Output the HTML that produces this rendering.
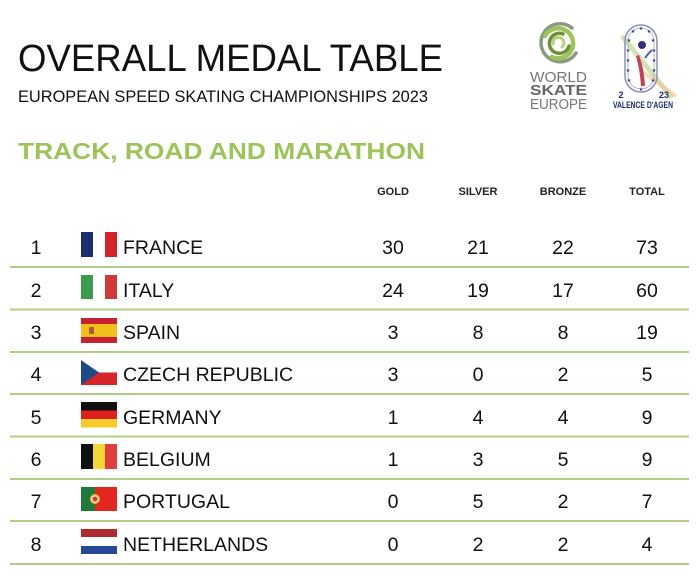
<!DOCTYPE html>
<html>
<head>
<meta charset="utf-8">
<style>
  html,body{margin:0;padding:0;background:#fff;}
  svg{display:block;}
  text{font-family:"Liberation Sans",Arial,sans-serif;}
</style>
</head>
<body>
<svg width="700" height="576" viewBox="0 0 700 576" xmlns="http://www.w3.org/2000/svg">
  <rect width="700" height="576" fill="#fff"/>

  <!-- Titles -->
  <text x="18" y="71" font-size="38" fill="#111" textLength="425" lengthAdjust="spacingAndGlyphs">OVERALL MEDAL TABLE</text>
  <text x="18" y="102" font-size="16.5" fill="#111" textLength="410" lengthAdjust="spacingAndGlyphs">EUROPEAN SPEED SKATING CHAMPIONSHIPS 2023</text>
  <text x="18" y="159" font-size="23" font-weight="bold" fill="#9dc35a" textLength="407" lengthAdjust="spacingAndGlyphs">TRACK, ROAD AND MARATHON</text>

  <!-- World Skate Europe logo -->
  <g fill="none" stroke-linecap="round">
    <path d="M 576 53 A 19 19 0 1 1 572 28" stroke="#8a9a80" stroke-width="3.5"/>
    <path d="M 545 36 A 15 15 0 1 1 552 57" stroke="#9cc45a" stroke-width="4.5"/>
    <path d="M 569 46 A 10 10 0 1 1 563 34" stroke="#6f8f3a" stroke-width="3.5"/>
    <path d="M 553 44 A 5.5 5.5 0 1 1 562 47" stroke="#b5d17a" stroke-width="3"/>
  </g>
  <text x="558.5" y="82" font-size="15" fill="#777" text-anchor="middle" textLength="57" lengthAdjust="spacingAndGlyphs">WORLD</text>
  <text x="558.5" y="95" font-size="15" font-weight="bold" fill="#666" text-anchor="middle" textLength="57" lengthAdjust="spacingAndGlyphs">SKATE</text>
  <text x="558.5" y="109" font-size="15" fill="#777" text-anchor="middle" textLength="57" lengthAdjust="spacingAndGlyphs">EUROPE</text>

  <!-- Valence d'Agen logo -->
  <path d="M 622 36 L 672 98" stroke="#c9dca0" stroke-width="5" opacity="0.8"/>
  <path d="M 640 70 L 676 96" stroke="#f0c89a" stroke-width="4" opacity="0.6"/>
  <rect x="625" y="25" width="32" height="67" rx="16" fill="none" stroke="#8a8fb0" stroke-width="1.5"/>
  <rect x="628" y="28" width="26" height="61" rx="13" fill="none" stroke="#b0b4cc" stroke-width="1"/>
  <g fill="#2a3580" font-size="5" text-anchor="middle">
    <text x="641" y="30">★</text><text x="633" y="33">★</text><text x="649" y="33">★</text>
    <text x="629" y="42">★</text><text x="653" y="42">★</text>
    <text x="628" y="52">★</text><text x="654" y="52">★</text>
    <text x="628" y="62">★</text><text x="654" y="62">★</text>
    <text x="628" y="72">★</text><text x="654" y="72">★</text>
    <text x="629" y="82">★</text><text x="653" y="82">★</text>
    <text x="641" y="91">★</text>
  </g>
  <circle cx="642" cy="45" r="4" fill="#3a2f7a"/>
  <path d="M 636 56 Q 640 70 641 86 L 645 86 Q 644 68 639 55 Z" fill="#c0405a"/>
  <path d="M 645 58 L 648 54 L 652 50" stroke="#3d6ab0" stroke-width="2" fill="none"/>
  <text x="621" y="98" font-size="9" font-weight="bold" fill="#1e2a6a" text-anchor="middle">2</text>
  <text x="664" y="98" font-size="9" font-weight="bold" fill="#1e2a6a" text-anchor="middle">23</text>
  <text x="643" y="108" font-size="9" font-weight="bold" fill="#1e2a6a" text-anchor="middle" textLength="60" lengthAdjust="spacingAndGlyphs">VALENCE D'AGEN</text>

  <!-- Headers -->
  <g font-size="11" font-weight="bold" fill="#222" text-anchor="middle">
    <text x="393" y="195">GOLD</text>
    <text x="478" y="195">SILVER</text>
    <text x="563" y="195">BRONZE</text>
    <text x="647" y="195">TOTAL</text>
  </g>

  <!-- Row lines -->
  <g stroke="#b2cd86" stroke-width="2">
    <line x1="10" y1="267" x2="689" y2="267"/>
    <line x1="10" y1="309.5" x2="689" y2="309.5"/>
    <line x1="10" y1="352" x2="689" y2="352"/>
    <line x1="10" y1="394" x2="689" y2="394"/>
    <line x1="10" y1="436.5" x2="689" y2="436.5"/>
    <line x1="10" y1="479" x2="689" y2="479"/>
    <line x1="10" y1="521" x2="689" y2="521"/>
    <line x1="10" y1="564" x2="689" y2="564"/>
  </g>

  <!-- Flags -->
  <rect x="81" y="232" width="12" height="25" fill="#1c2e6e"/>
  <rect x="105" y="232" width="12" height="25" fill="#d2232a"/>
  <rect x="81" y="275" width="12" height="24" fill="#3c9a4c"/>
  <rect x="105" y="275" width="12" height="24" fill="#cf3b3b"/>
  <rect x="81" y="318" width="36" height="25" fill="#c7202e"/>
  <rect x="81" y="324" width="36" height="13" fill="#f2c01c"/>
  <rect x="89" y="327" width="5" height="7" rx="1" fill="#b0583a"/>
  <rect x="81" y="360" width="36" height="12.5" fill="#fff"/>
  <rect x="81" y="372.5" width="36" height="12.5" fill="#d7262a"/>
  <polygon points="81,360 99,372.5 81,385" fill="#1d4a88"/>
  <rect x="81" y="402" width="36" height="8.5" fill="#111"/>
  <rect x="81" y="410.5" width="36" height="8.5" fill="#dd1f1f"/>
  <rect x="81" y="419" width="36" height="8.5" fill="#f7cc2a"/>
  <rect x="81" y="444" width="12" height="25" fill="#111"/>
  <rect x="93" y="444" width="12" height="25" fill="#f6d834"/>
  <rect x="105" y="444" width="12" height="25" fill="#e04040"/>
  <rect x="81" y="487" width="14" height="24" fill="#1f7a3a"/>
  <rect x="95" y="487" width="22" height="24" fill="#e2271f"/>
  <circle cx="95" cy="499" r="5" fill="#e8c040"/>
  <circle cx="95" cy="499" r="3" fill="#d0403a" stroke="#fff" stroke-width="0.8"/>
  <rect x="81" y="529" width="36" height="8" fill="#b02a30"/>
  <rect x="81" y="537" width="36" height="9" fill="#fff"/>
  <rect x="81" y="546" width="36" height="8" fill="#26479a"/>

  <!-- Row text -->
  <g font-size="19.5" fill="#111">
    <g text-anchor="middle">
      <text x="36" y="254">1</text>
      <text x="36" y="297">2</text>
      <text x="36" y="339">3</text>
      <text x="36" y="381">4</text>
      <text x="36" y="424">5</text>
      <text x="36" y="466">6</text>
      <text x="36" y="508">7</text>
      <text x="36" y="551">8</text>
    </g>
    <text x="123" y="254">FRANCE</text>
    <text x="123" y="297">ITALY</text>
    <text x="123" y="339">SPAIN</text>
    <text x="123" y="381">CZECH REPUBLIC</text>
    <text x="123" y="424">GERMANY</text>
    <text x="123" y="466">BELGIUM</text>
    <text x="123" y="508">PORTUGAL</text>
    <text x="123" y="551">NETHERLANDS</text>

    <g text-anchor="middle">
      <text x="393" y="254">30</text><text x="478" y="254">21</text><text x="563" y="254">22</text><text x="647" y="254">73</text>
      <text x="393" y="297">24</text><text x="478" y="297">19</text><text x="563" y="297">17</text><text x="647" y="297">60</text>
      <text x="393" y="339">3</text><text x="478" y="339">8</text><text x="563" y="339">8</text><text x="647" y="339">19</text>
      <text x="393" y="381">3</text><text x="478" y="381">0</text><text x="563" y="381">2</text><text x="647" y="381">5</text>
      <text x="393" y="424">1</text><text x="478" y="424">4</text><text x="563" y="424">4</text><text x="647" y="424">9</text>
      <text x="393" y="466">1</text><text x="478" y="466">3</text><text x="563" y="466">5</text><text x="647" y="466">9</text>
      <text x="393" y="508">0</text><text x="478" y="508">5</text><text x="563" y="508">2</text><text x="647" y="508">7</text>
      <text x="393" y="551">0</text><text x="478" y="551">2</text><text x="563" y="551">2</text><text x="647" y="551">4</text>
    </g>
  </g>
</svg>
</body>
</html>
